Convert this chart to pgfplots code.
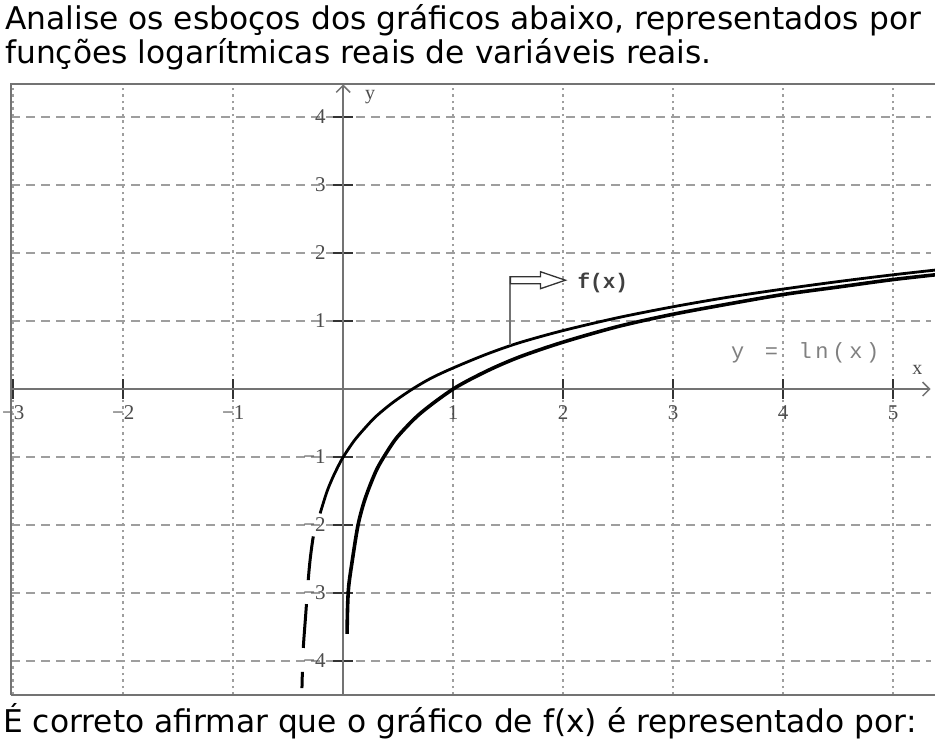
\documentclass[border=0pt]{standalone}
\usepackage{pgfplots}
\pgfplotsset{compat=1.18}
\usepackage{fontspec}
\setmainfont{DejaVu Sans}
\newfontfamily\monofont{Liberation Mono}
\newfontfamily\seriffont{Liberation Serif}
\usetikzlibrary{arrows.meta}
\definecolor{axgray}{gray}{0.45}
\definecolor{gridgray}{gray}{0.62}
\definecolor{labgray}{gray}{0.3}
\newcommand{\cb}[1]{\makebox[16.9pt]{#1}}
\begin{document}
\begin{tikzpicture}
\useasboundingbox (0,0) rectangle (935pt,741pt);
\clip (0,0) rectangle (935pt,741pt);
\tikzset{maintext/.style={anchor=base west, inner sep=0pt, font=\fontsize{31.3}{34}\selectfont}}
\node[maintext] at (5pt,711pt) {Analise os esboços dos gráficos abaixo, representados por};
\node[maintext] at (5pt,677pt) {funções logarítmicas reais de variáveis reais.};
\node[maintext] at (3pt,8pt) {É correto afirmar que o gráfico de f(x) é representado por:};
\begin{axis}[
  at={(11pt,46pt)}, anchor=south west, scale only axis,
  width=919.6pt, height=610.6pt,
  xmin=-3.02, xmax=5.34, ymin=-4.5, ymax=4.48,
  axis lines=middle, clip=false,
  axis line style={axgray, line width=2.5pt, -{Straight Barb[length=7pt,width=14pt,line width=1.5pt]}},
  xtick={-3,-2,-1,1,2,3,4,5}, ytick={-4,-3,-2,-1,1,2,3,4},
  xticklabels={−3,−2,−1,1,2,3,4,5},
  yticklabels={−4,−3,−2,−1,1,2,3,4},
  grid=major,
  x grid style={gridgray, line width=1.6pt, dash pattern=on 2.5pt off 4pt},
  y grid style={gridgray, line width=1.6pt, dash pattern=on 9pt off 6pt},
  tick align=center, major tick length=20pt,
  tick style={black!80, line width=1.6pt},
  tick label style={font=\seriffont\fontsize{21}{21}\selectfont, text=labgray},
  xticklabel style={anchor=north, yshift=-3pt},
  yticklabel style={anchor=east, xshift=-4pt},
]
% frame
\draw[axgray, line width=2.2pt] (axis cs:-3.02,-4.5) -- (axis cs:-3.02,4.48) -- (axis cs:5.6,4.48);
\draw[axgray, line width=2.2pt] (axis cs:-3.02,-4.5) -- (axis cs:5.6,-4.5);
% y = ln(x)
\addplot[black, line width=3.6pt, smooth] coordinates {
 (0.035,-3.6) (0.04,-3.2) (0.05,-2.9) (0.08,-2.55) (0.135,-2.0) (0.2,-1.61)
 (0.3,-1.20) (0.4,-0.92) (0.5,-0.69) (0.7,-0.36) (1,0) (1.3,0.26) (1.6,0.47)
 (2,0.69) (2.5,0.92) (3,1.10) (3.5,1.25) (4,1.39) (4.5,1.50) (5,1.61) (5.5,1.70)};
% f(x) solid
\addplot[black, line width=2.8pt, smooth] coordinates {
 (-0.21,-1.83) (-0.15,-1.52) (-0.1,-1.32) (-0.05,-1.15) (0,-1.0) (0.1,-0.76)
 (0.2,-0.57) (0.3,-0.40) (0.45,-0.20) (0.63,0) (0.8,0.16) (1,0.31) (1.3,0.51)
 (1.6,0.68) (2,0.86) (2.5,1.05) (3,1.21) (3.5,1.35) (4,1.47) (4.5,1.58) (5,1.68) (5.5,1.77)};
% f(x) dashed continuation
\addplot[black, line width=3pt, smooth, dash pattern=on 44pt off 24pt, dash phase=44pt] coordinates {
 (-0.21,-1.83) (-0.245,-2.0) (-0.273,-2.18) (-0.30,-2.5) (-0.318,-2.81) (-0.34,-3.3) (-0.364,-3.84) (-0.375,-4.4)};
% annotation
\draw[axgray, line width=2pt] (axis cs:1.52,0.64) -- (axis cs:1.52,1.66);
\draw[black!80, line width=1.3pt, fill=white] (axis cs:1.52,1.651) -- (axis cs:1.793,1.651) -- (axis cs:1.793,1.725) -- (axis cs:2.02,1.60) -- (axis cs:1.793,1.475) -- (axis cs:1.793,1.549) -- (axis cs:1.52,1.549) -- cycle;
\node[font=\monofont\bfseries\fontsize{21}{21}\selectfont, text=black!75] at (axis cs:2.36,1.56) {f(x)};
\node[font=\monofont\fontsize{22}{22}\selectfont, text=gray, inner sep=0pt] at (axis cs:4.2,0.53) {\cb{y}\cb{}\cb{=}\cb{}\cb{l}\cb{n}\cb{(}\cb{x}\cb{)}};
\node[font=\seriffont\fontsize{20}{20}\selectfont, text=labgray] at (axis cs:5.22,0.28) {x};
\node[font=\seriffont\fontsize{20}{20}\selectfont, text=labgray] at (axis cs:0.245,4.29) {y};
\end{axis}
\end{tikzpicture}
\end{document}
